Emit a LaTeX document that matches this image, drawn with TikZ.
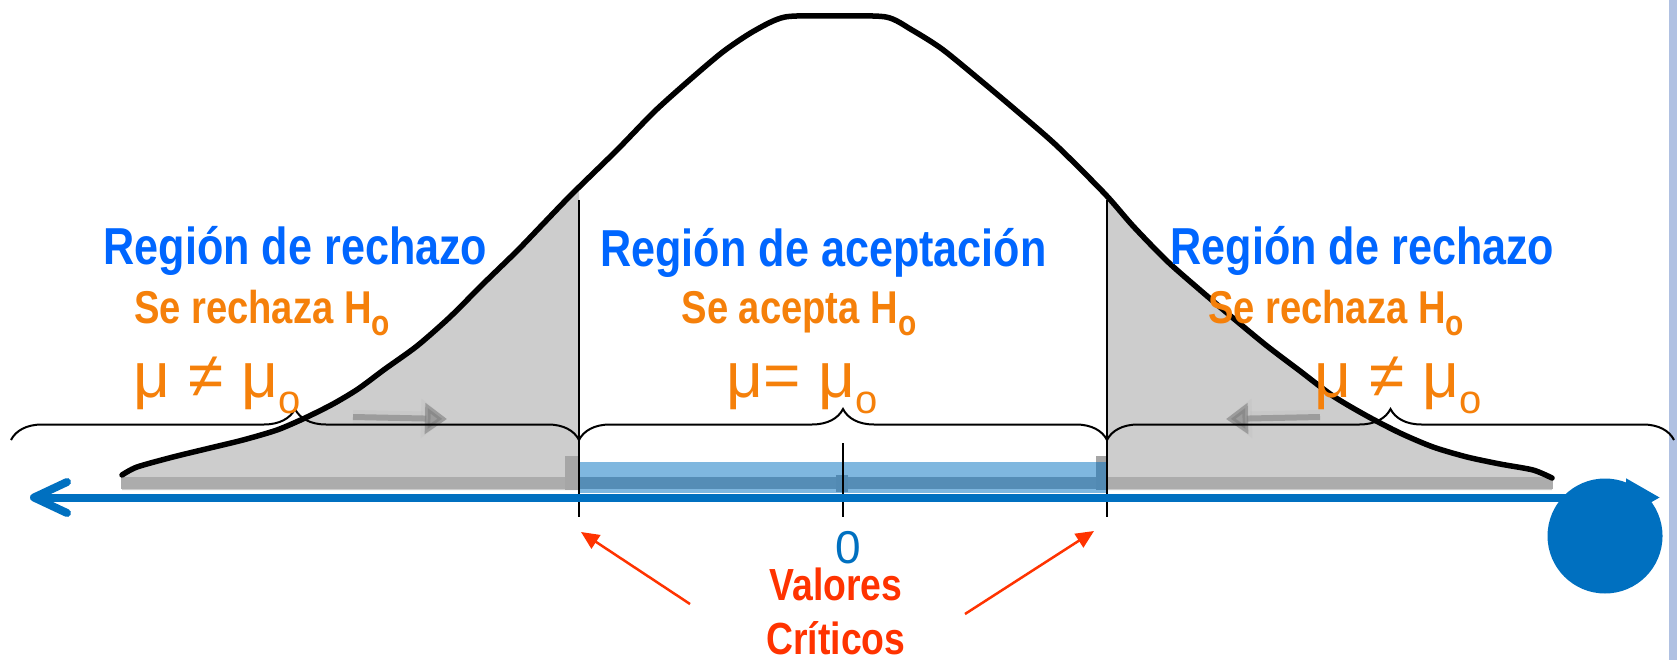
\documentclass[tikz,border=0pt]{standalone}
\usepackage{fontspec}
\setmainfont{Liberation Sans}
\newfontfamily\bnarrow[FakeStretch=0.83]{Liberation Sans}
\newfontfamily\regf{Liberation Sans}
\usetikzlibrary{decorations.pathreplacing,arrows.meta}
\definecolor{regblue}{RGB}{0,102,255}
\definecolor{hyporange}{RGB}{245,128,10}
\definecolor{critred}{RGB}{255,51,0}
\definecolor{axisblue}{RGB}{0,112,192}
\definecolor{tailgray}{RGB}{205,205,205}
\definecolor{bandgray}{RGB}{172,172,172}
\definecolor{edgeblue}{RGB}{176,193,226}
\newcommand\subo[2]{\raisebox{-#1}{\fontsize{#2}{#2}\selectfont o}}
\tikzset{
 regtxt/.style={inner sep=0, anchor=base, text=regblue, font=\bnarrow\bfseries\fontsize{52}{60}\selectfont},
 hyptxt/.style={inner sep=0, anchor=base, text=hyporange, font=\bnarrow\bfseries\fontsize{46}{52}\selectfont},
 mutxt/.style={inner sep=0, anchor=base, text=hyporange, font=\regf\fontsize{64}{70}\selectfont},
 crittxt/.style={inner sep=0, anchor=base, text=critred, font=\bnarrow\bfseries\fontsize{45}{52}\selectfont},
 critline/.style={line width=2pt, black},
 bracestyle/.style={decorate, decoration={brace, amplitude=31pt}, line width=2pt},
 redarrow/.style={critred, line width=2.5pt, -{Triangle[length=18pt,width=16pt]}},
 axisline/.style={axisblue, line width=8pt},
 grayhalo/.style={black!25, line width=14pt, opacity=0.35, -{Triangle[length=26pt,width=38pt]}},
 grayarrow/.style={black!50, line width=6pt, opacity=0.6, -{Triangle[length=22pt,width=30pt]}},
 bellcurve/.style={line width=5.5pt, line join=round, line cap=round},
}
\begin{document}
\begin{tikzpicture}[x=1pt, y={(0pt,-1pt)}]
\useasboundingbox (0,0) rectangle (1677,660);
\fill[white] (0,0) rectangle (1677,660);
\fill[edgeblue] (1669,0) rectangle (1677,660);
% shaded tails
\begin{scope}
\clip (121,0) rectangle (579,490) (1107,0) rectangle (1553,490);
\fill[tailgray] (122,490) -- plot[smooth, tension=0.45] coordinates {(122,475) (137,467) (173,457) (210,448) (243,440) (277,430) (305,418) (333,404) (358,389) (385,369) (417,346) (450,317) (483,284) (517,251) (543,224) (571,195) (617,150) (655,111) (693,77) (724,51) (754,31) (785,17) (835,16) (886,17) (912,30) (942,49) (980,80) (1018,112) (1057,146) (1105,194) (1133,226) (1167,261) (1200,290) (1233,318) (1267,346) (1300,371) (1333,396) (1367,416) (1400,433) (1433,447) (1467,457) (1500,464) (1533,470) (1552,478)} -- (1552,490) -- cycle;
\end{scope}
\fill[bandgray] (121,477) rectangle (1553,489);
\fill[black!35] (565,456) rectangle (579,490);
\fill[black!35] (1096,456) rectangle (1107,490);
\fill[black!35] (836,475) rectangle (848,492);
\fill[axisblue, opacity=0.5] (579,462) rectangle (1107,493);
% gray blurred arrows inside tails
\coordinate (gl-s) at (353,417);
\coordinate (gl-e) at (447,419);
\coordinate (gr-s) at (1320,417);
\coordinate (gr-e) at (1226,419);
\draw[grayhalo] (gl-s) -- (gl-e);
\draw[grayhalo] (gr-s) -- (gr-e);
\draw[grayarrow] (gl-s) -- (gl-e);
\draw[grayarrow] (gr-s) -- (gr-e);
% bell curve
\draw[bellcurve] plot[smooth, tension=0.45] coordinates {(122,475) (137,467) (173,457) (210,448) (243,440) (277,430) (305,418) (333,404) (358,389) (385,369) (417,346) (450,317) (483,284) (517,251) (543,224) (571,195) (617,150) (655,111) (693,77) (724,51) (754,31) (785,17) (835,16) (886,17) (912,30) (942,49) (980,80) (1018,112) (1057,146) (1105,194) (1133,226) (1167,261) (1200,290) (1233,318) (1267,346) (1300,371) (1333,396) (1367,416) (1400,433) (1433,447) (1467,457) (1500,464) (1533,470) (1552,478)};
% critical lines and zero tick
\coordinate (cl-top) at (579,200);
\coordinate (cl-bot) at (579,517);
\coordinate (cr-top) at (1107,200);
\coordinate (cr-bot) at (1107,517);
\coordinate (z-top) at (842.5,443);
\coordinate (z-bot) at (842.5,517);
\draw[critline] (cl-top) -- (cl-bot);
\draw[critline] (cr-top) -- (cr-bot);
\draw[critline] (z-top) -- (z-bot);
% braces
\coordinate (b0) at (11,440);
\coordinate (b1) at (579,440);
\coordinate (b2) at (1107,440);
\coordinate (b3) at (1674,440);
\draw[bracestyle] (b0) -- (b1);
\draw[bracestyle] (b1) -- (b2);
\draw[bracestyle] (b2) -- (b3);
% axis
\coordinate (axL) at (34,497.5);
\coordinate (axR) at (1660,497.5);
\draw[axisline, -{Triangle[length=34pt,width=36pt]}] (axL) -- (axR);
\draw[axisblue, line width=8pt, line cap=round, line join=round] (67,482) -- (axL) -- (67,513);
\node[circle, fill=axisblue, minimum size=115pt, inner sep=0] (dot) at (1605,536) {};
% texts
\node[regtxt] (r1) at (295.5,265) {Región de rechazo};
\node[regtxt] (r2) at (823.5,266) {Región de aceptación};
\node[regtxt] (r3) at (1362.5,265) {Región de rechazo};
\node[hyptxt] (h1) at (262,323) {Se rechaza H\subo{12pt}{36}};
\node[hyptxt] (h2) at (799,323) {Se acepta H\subo{12pt}{36}};
\node[hyptxt] (h3) at (1336,323) {Se rechaza H\subo{12pt}{36}};
\node[mutxt] (m1) at (217,397) {μ ≠ μ\subo{16pt}{40}};
\node[mutxt] (m2) at (802,397) {μ= μ\subo{16pt}{40}};
\node[mutxt] (m3) at (1398,397) {μ ≠ μ\subo{16pt}{40}};
\node[inner sep=0, anchor=base, text=axisblue, font=\regf\fontsize{46}{50}\selectfont] (zero) at (848,563) {0};
\node[crittxt] (v1) at (836,600) {Valores};
\node[crittxt] (v2) at (836,654) {Críticos};
% red arrows
\coordinate (vl-tail) at (690,604);
\coordinate (vl-tip) at (581,532);
\coordinate (vr-tail) at (965,614);
\coordinate (vr-tip) at (1094,531);
\draw[redarrow] (vl-tail) -- (vl-tip);
\draw[redarrow] (vr-tail) -- (vr-tip);
\end{tikzpicture}
\end{document}
